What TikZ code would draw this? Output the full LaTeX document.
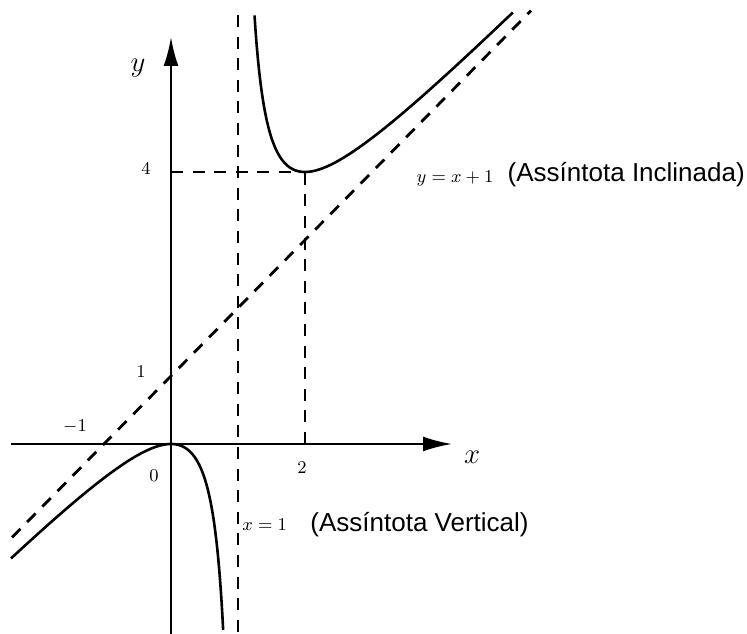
\documentclass[tikz,border=0pt]{standalone}
\usepackage{fontspec}
\setsansfont{Liberation Sans}
\usetikzlibrary{arrows.meta}
\begin{document}
\begin{tikzpicture}[x=33.5pt,y=34pt,
  axisline/.style={line width=1.2pt,-{Latex[length=14.5pt,width=7.5pt]}},
  curve/.style={line width=1.3pt},
  dashline/.style={line width=1.4pt,dash pattern=on 6pt off 4.8pt},
  numlbl/.style={font=\fontsize{9.3}{11}\selectfont,inner sep=0pt},
  axlbl/.style={font=\fontsize{14.4}{16}\selectfont,inner sep=0pt},
  sanslbl/.style={font=\sffamily\fontsize{13}{15}\selectfont,inner sep=0pt,anchor=west}]
\useasboundingbox (-2.5522,-2.794) rectangle (8.597,6.529);
% axes
\coordinate (xs) at (-2.388,0);
\coordinate (xe) at (4.194,0);
\coordinate (ys) at (0,-2.794);
\coordinate (ye) at (0,5.985);
\draw[axisline] (xs) -- (xe);
\draw[axisline] (ys) -- (ye);
% asymptotes
\coordinate (va) at (1,6.309);
\coordinate (vb) at (1,-2.794);
\draw[dashline] (va) -- (vb);
\coordinate (oa) at (-2.373,-1.373);
\coordinate (ob) at (5.373,6.373);
\draw[dashline] (oa) -- (ob);
% guide lines
\coordinate (p4) at (0,4);
\coordinate (pm) at (2,4);
\coordinate (p2) at (2,0);
\draw[dashline] (p4) -- (pm);
\draw[dashline] (p2) -- (pm);
% curve branches
\draw[curve] plot[domain=1.2466:5.104,samples=300,smooth] (\x,{\x*\x/(\x-1)});
\draw[curve] plot[domain=-2.388:0.7814,samples=300,smooth] (\x,{\x*\x/(\x-1)});
% labels
\node[axlbl] (ly) at (-0.4925,5.529) {$y$};
\node[axlbl] (lx) at (4.493,-0.191) {$x$};
\node[numlbl] (l4) at (-0.373,4.044) {$4$};
\node[numlbl] (l1) at (-0.448,1.059) {$1$};
\node[numlbl] (lm1) at (-1.433,0.25) {$-1$};
\node[numlbl] (l0) at (-0.254,-0.47) {$0$};
\node[numlbl] (l2) at (1.955,-0.353) {$2$};
\node[numlbl] (leqo) at (4.239,3.912) {$y=x+1$};
\node[sanslbl] (lincl) at (5.02,3.956) {(Assíntota Inclinada)};
\node[numlbl,anchor=west] (leqv) at (1.06,-1.191) {$x=1$};
\node[sanslbl] (lvert) at (2.075,-1.191) {(Assíntota Vertical)};
\end{tikzpicture}
\end{document}
